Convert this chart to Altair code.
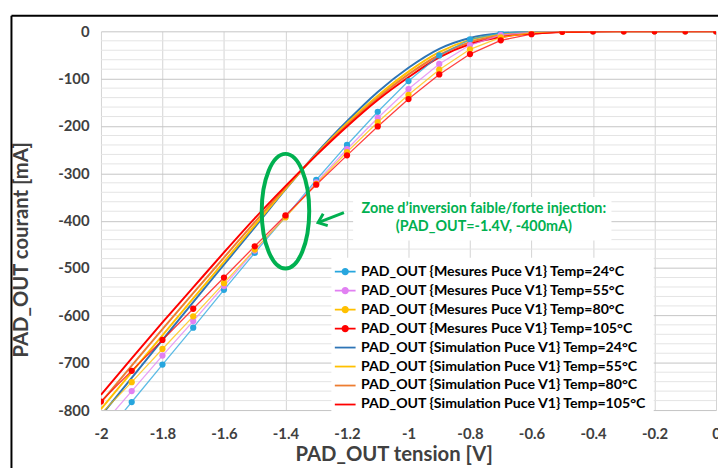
import altair as alt
import pandas as pd

# ---------------- data ----------------
volts = [-2.0, -1.9, -1.8, -1.7, -1.6, -1.5, -1.4, -1.3, -1.2, -1.1, -1.0,
         -0.9, -0.8, -0.7, -0.6, -0.5, -0.4, -0.3, -0.2, -0.1, 0.0]

mes_names = ["PAD_OUT {Mesures Puce V1} Temp=24°C",
             "PAD_OUT {Mesures Puce V1} Temp=55°C",
             "PAD_OUT {Mesures Puce V1} Temp=80°C",
             "PAD_OUT {Mesures Puce V1} Temp=105°C"]
sim_names = ["PAD_OUT {Simulation Puce V1} Temp=24°C",
             "PAD_OUT {Simulation Puce V1} Temp=55°C",
             "PAD_OUT {Simulation Puce V1} Temp=80°C",
             "PAD_OUT {Simulation Puce V1} Temp=105°C"]

mes_24 = [-862, -783, -704, -626, -546, -468, -392, -314, -240, -170, -105, -51, -17, -3, -1, 0, 0, 0, 0, 0, 0]
mes_55 = [-835, -760, -685, -612, -538, -463, -391, -319, -249, -183, -122, -69, -29, -8, -2, 0, 0, 0, 0, 0, 0]
mes_80 = [-808, -741, -671, -602, -532, -461, -393, -322, -255, -192, -134, -81, -38, -13, -3, -1, 0, 0, 0, 0, 0]
mes_105 = [-782, -717, -652, -586, -520, -454, -389, -324, -262, -201, -143, -91, -48, -19, -6, -1, 0, 0, 0, 0, 0]

sim_24 = [-812, -732, -652, -572, -493, -414, -334, -258, -190, -128, -77, -37, -14, -4, -1, 0, 0, 0, 0, 0, 0]
sim_55 = [-798, -720, -642, -564, -487, -410, -333, -260, -194, -136, -85, -44, -18, -7, -2, -0.5, 0, 0, 0, 0, 0]
sim_80 = [-784, -706, -629, -553, -478, -403, -330, -261, -198, -141, -91, -50, -23, -9, -3, -1, 0, 0, 0, 0, 0]
sim_105 = [-768, -691, -615, -541, -467, -395, -327, -262, -201, -145, -97, -55, -27, -12, -5, -1.5, -0.5, 0, 0, 0, 0]

series_colors = ["#27a6de", "#e180f2", "#ffc000", "#ff0000",
                 "#2e75b6", "#ffc000", "#ed7d31", "#ff0000"]

x_ticks = [-2.0, -1.9, -1.8, -1.7, -1.6, -1.5, -1.4, -1.3, -1.2, -1.1, -1.0,
           -0.9, -0.8, -0.7, -0.6, -0.5, -0.4, -0.3, -0.2, -0.1, 0.0]
y_major = [-800, -700, -600, -500, -400, -300, -200, -100, 0]
y_minor = [v for v in range(-800, 1, 20) if v % 100 != 0]

x_title = "PAD_OUT tension [V]"
y_title = "PAD_OUT courant [mA]"

# annotation (data coordinates)
ellipse_v, ellipse_i = [-1.4], [-380]
arrow_v, arrow_i = [-1.21, -1.294], [-383, -404]
note_v = [-0.755, -0.755]
note_i = [-374.5, -413.6]
note_text = ["Zone d\u2019inversion faible/forte injection:", "(PAD_OUT=-1.4V, -400mA)"]
box_v, box_v2, box_i, box_i2 = [-1.18], [-0.34], [-350], [-442]

# ---------------- tables ----------------
rows = []
for name, vals in zip(mes_names, [mes_24, mes_55, mes_80, mes_105]):
    for v, i in zip(volts, vals):
        rows.append({"V": v, "I": i, "series": name})
mes_df = pd.DataFrame(rows)
rows = []
for name, vals in zip(sim_names, [sim_24, sim_55, sim_80, sim_105]):
    for v, i in zip(volts, vals):
        rows.append({"V": v, "I": i, "series": name})
sim_df = pd.DataFrame(rows)
all_names = mes_names + sim_names
legend_df = pd.DataFrame({"V": [None] * 8, "I": [None] * 8, "series": all_names})

FONT = "Lato"
GREEN = "#00b050"
AXIS_GREY = "#404040"

dot_path = ("M-1.5,0L1.5,0"
            "M-0.4,0a0.4,0.4 0 1,0 0.8,0a0.4,0.4 0 1,0 -0.8,0"
            "M-0.22,0a0.22,0.22 0 1,0 0.44,0a0.22,0.22 0 1,0 -0.44,0"
            "M-0.07,0a0.07,0.07 0 1,0 0.14,0a0.07,0.07 0 1,0 -0.14,0")
line_path = "M-1.5,0L1.5,0"

legend = alt.Legend(
    title=None, orient="none", legendX=233, legendY=229,
    fillColor="white", padding=6, labelFont=FONT, labelFontWeight="bold",
    labelFontSize=14.3, labelColor="black", labelLimit=500,
    symbolSize=196, labelOffset=8, rowPadding=3.2, symbolStrokeWidth=1.8,
    symbolOpacity=1,
)

x_scale = alt.Scale(domain=[-2, 0], nice=False, zero=False)
y_scale = alt.Scale(domain=[-800, 0], nice=False)

x_enc = alt.X("V:Q", scale=x_scale,
              axis=alt.Axis(values=x_ticks, title=x_title,
                            labelExpr="abs(round(datum.value*10)) % 2 === 0 ? '' + round(datum.value*10)/10 : ''",
                            grid=True, gridColor="#d3d3d3", ticks=False, domain=False,
                            labelOverlap=False, labelFlush=False,
                            labelPadding=17, titlePadding=3, titleX=296))
y_enc = alt.Y("I:Q", scale=y_scale,
              axis=alt.Axis(values=y_major, title=None,
                            labelExpr="'' + datum.value",
                            grid=True, gridColor="#c4c4c4",
                            ticks=False, domain=False, labelOverlap=False,
                            labelPadding=12))

stroke_enc = alt.Stroke("series:N", scale=alt.Scale(domain=all_names, range=series_colors), legend=None)
fill_enc = alt.Fill("series:N", scale=alt.Scale(domain=all_names, range=series_colors), legend=None)

minor_grid = alt.Chart(pd.DataFrame({"I": y_minor})).mark_rule(
    color="#e4e4e4", strokeWidth=1).encode(y=y_enc)

sim_layer = alt.Chart(sim_df).mark_line(strokeWidth=2, interpolate="monotone", clip=True).encode(
    x=x_enc, y=y_enc, stroke=stroke_enc)
mes_line = alt.Chart(mes_df).mark_line(strokeWidth=1.3, opacity=0.75, clip=True).encode(
    x=x_enc, y=y_enc, stroke=stroke_enc)
mes_pts = alt.Chart(mes_df).mark_point(filled=True, size=40, opacity=1, clip=True,
                                       strokeWidth=0).encode(
    x=x_enc, y=y_enc, fill=fill_enc)

legend_layer = alt.Chart(legend_df).mark_point(filled=False, opacity=1, strokeWidth=1.8).encode(
    x=x_enc, y=y_enc,
    color=alt.Color("series:N", scale=alt.Scale(domain=all_names, range=series_colors),
                    legend=legend),
    shape=alt.Shape("series:N",
                    scale=alt.Scale(domain=all_names, range=[dot_path] * 4 + [line_path] * 4),
                    legend=legend),
)

box = alt.Chart(pd.DataFrame({"v": box_v, "v2": box_v2, "i": box_i, "i2": box_i2})).mark_rect(
    color="white").encode(x="v:Q", x2="v2:Q", y="i:Q", y2="i2:Q")

ellipse_path = "M0,-1A0.414,1 0 1,1 0,1A0.414,1 0 1,1 0,-1Z"
ellipse = alt.Chart(pd.DataFrame({"v": ellipse_v, "i": ellipse_i})).mark_point(
    shape=ellipse_path, size=13456, filled=False, strokeWidth=4, color=GREEN, opacity=1).encode(
    x="v:Q", y="i:Q")

arrow_line = alt.Chart(pd.DataFrame({"v": arrow_v, "i": arrow_i})).mark_line(
    color=GREEN, strokeWidth=3).encode(x="v:Q", y="i:Q")
arrow_head = alt.Chart(pd.DataFrame({"v": arrow_v[1:], "i": arrow_i[1:]})).mark_point(
    shape="M-0.8,1L0,0L0.8,1", size=256, filled=False, strokeWidth=3, color=GREEN,
    opacity=1, angle=249).encode(x="v:Q", y="i:Q")

note = alt.Chart(pd.DataFrame({"v": note_v, "i": note_i, "t": note_text})).mark_text(
    font=FONT, fontWeight="bold", fontSize=14.5, color=GREEN).encode(
    x="v:Q", y="i:Q", text="t:N")

one = pd.DataFrame({"k": [0]})
y_title_mark = alt.Chart(one).mark_text(
    text=y_title, font=FONT, fontWeight="bold", fontSize=20.5, color=AXIS_GREY,
    angle=270, align="center", baseline="middle").encode(
    x=alt.value(-80), y=alt.value(221))
frame_left = alt.Chart(one).mark_rule(color="black", strokeWidth=2).encode(
    x=alt.value(-90.5), y=alt.value(-15.7), y2=alt.value(460))
frame_top = alt.Chart(one).mark_rule(color="black", strokeWidth=2).encode(
    x=alt.value(-90.5), x2=alt.value(640), y=alt.value(-15.7))

chart = alt.layer(
    minor_grid, box, sim_layer, mes_line, mes_pts, legend_layer, ellipse, arrow_line,
    arrow_head, note, y_title_mark, frame_left, frame_top
).properties(
    width=622, height=383,
    padding={"left": 94, "top": 21, "right": 2, "bottom": 56},
    autosize=alt.AutoSizeParams(type="none"),
    background="white",
).resolve_scale(
    color="independent", shape="independent"
).configure_view(stroke=None).configure_axis(
    labelFont=FONT, labelFontSize=15, labelFontWeight="bold", labelColor=AXIS_GREY,
    titleFont=FONT, titleFontSize=20.5, titleFontWeight="bold", titleColor=AXIS_GREY,
)

chart.save("out.html", embed_options={"renderer": "svg", "actions": False})
